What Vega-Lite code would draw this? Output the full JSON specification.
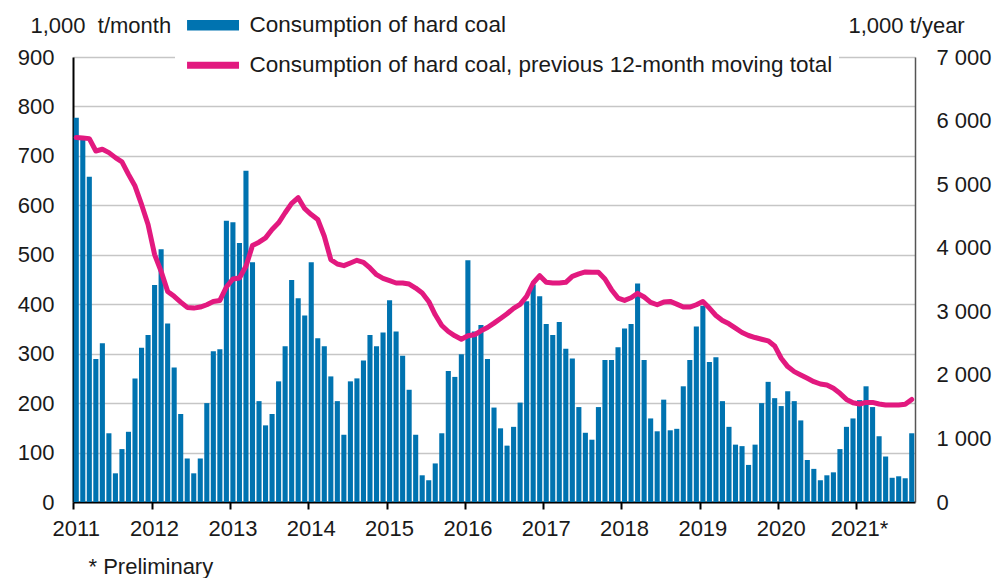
{
  "$schema": "https://vega.github.io/schema/vega-lite/v6.json",
  "width": 842,
  "height": 445,
  "autosize": "none",
  "padding": {"left": 73, "top": 57, "right": 83, "bottom": 76},
  "background": "white",
  "config": {
    "view": {"stroke": null},
    "font": "Liberation Sans",
    "axis": {"labelFont": "Liberation Sans", "labelFontSize": 22, "labelColor": "#1a1a1a", "titleFont": "Liberation Sans", "titleFontSize": 22, "titleFontWeight": "normal", "titleColor": "#1a1a1a"},
    "legend": {"labelFont": "Liberation Sans", "labelFontSize": 22.5, "labelColor": "#1a1a1a", "labelLimit": 0}
  },
  "data": {"values": [
    {"m":"2011-01","v":777,"t":5733},{"m":"2011-02","v":740,"t":5725},{"m":"2011-03","v":658,"t":5716},{"m":"2011-04","v":289,"t":5522},{"m":"2011-05","v":321,"t":5549},{"m":"2011-06","v":139,"t":5496},{"m":"2011-07","v":58,"t":5417},{"m":"2011-08","v":107,"t":5350},{"m":"2011-09","v":142,"t":5154},{"m":"2011-10","v":250,"t":4970},{"m":"2011-11","v":312,"t":4681},{"m":"2011-12","v":338,"t":4365},
    {"m":"2012-01","v":439,"t":3892},{"m":"2012-02","v":511,"t":3629},{"m":"2012-03","v":361,"t":3313},{"m":"2012-04","v":272,"t":3235},{"m":"2012-05","v":178,"t":3145},{"m":"2012-06","v":88,"t":3061},{"m":"2012-07","v":58,"t":3050},{"m":"2012-08","v":88,"t":3066},{"m":"2012-09","v":200,"t":3103},{"m":"2012-10","v":305,"t":3155},{"m":"2012-11","v":309,"t":3171},{"m":"2012-12","v":569,"t":3382},
    {"m":"2013-01","v":566,"t":3508},{"m":"2013-02","v":524,"t":3524},{"m":"2013-03","v":670,"t":3708},{"m":"2013-04","v":485,"t":4034},{"m":"2013-05","v":204,"t":4087},{"m":"2013-06","v":155,"t":4155},{"m":"2013-07","v":178,"t":4287},{"m":"2013-08","v":244,"t":4392},{"m":"2013-09","v":315,"t":4550},{"m":"2013-10","v":449,"t":4697},{"m":"2013-11","v":412,"t":4786},{"m":"2013-12","v":377,"t":4613},
    {"m":"2014-01","v":485,"t":4522},{"m":"2014-02","v":331,"t":4444},{"m":"2014-03","v":315,"t":4180},{"m":"2014-04","v":254,"t":3813},{"m":"2014-05","v":204,"t":3744},{"m":"2014-06","v":136,"t":3718},{"m":"2014-07","v":244,"t":3760},{"m":"2014-08","v":250,"t":3802},{"m":"2014-09","v":286,"t":3771},{"m":"2014-10","v":338,"t":3681},{"m":"2014-11","v":315,"t":3576},{"m":"2014-12","v":343,"t":3518},
    {"m":"2015-01","v":408,"t":3482},{"m":"2015-02","v":345,"t":3445},{"m":"2015-03","v":296,"t":3445},{"m":"2015-04","v":227,"t":3429},{"m":"2015-05","v":136,"t":3366},{"m":"2015-06","v":54,"t":3287},{"m":"2015-07","v":44,"t":3155},{"m":"2015-08","v":78,"t":2945},{"m":"2015-09","v":139,"t":2776},{"m":"2015-10","v":265,"t":2682},{"m":"2015-11","v":253,"t":2614},{"m":"2015-12","v":299,"t":2561},
    {"m":"2016-01","v":489,"t":2614},{"m":"2016-02","v":345,"t":2630},{"m":"2016-03","v":358,"t":2693},{"m":"2016-04","v":289,"t":2745},{"m":"2016-05","v":191,"t":2814},{"m":"2016-06","v":149,"t":2887},{"m":"2016-07","v":114,"t":2961},{"m":"2016-08","v":152,"t":3045},{"m":"2016-09","v":201,"t":3108},{"m":"2016-10","v":406,"t":3234},{"m":"2016-11","v":440,"t":3445},{"m":"2016-12","v":416,"t":3560},
    {"m":"2017-01","v":360,"t":3455},{"m":"2017-02","v":338,"t":3445},{"m":"2017-03","v":364,"t":3445},{"m":"2017-04","v":310,"t":3455},{"m":"2017-05","v":290,"t":3550},{"m":"2017-06","v":192,"t":3587},{"m":"2017-07","v":140,"t":3619},{"m":"2017-08","v":126,"t":3613},{"m":"2017-09","v":192,"t":3613},{"m":"2017-10","v":287,"t":3508},{"m":"2017-11","v":287,"t":3340},{"m":"2017-12","v":313,"t":3208},
    {"m":"2018-01","v":351,"t":3171},{"m":"2018-02","v":360,"t":3213},{"m":"2018-03","v":442,"t":3282},{"m":"2018-04","v":287,"t":3224},{"m":"2018-05","v":169,"t":3140},{"m":"2018-06","v":143,"t":3103},{"m":"2018-07","v":207,"t":3145},{"m":"2018-08","v":145,"t":3155},{"m":"2018-09","v":148,"t":3113},{"m":"2018-10","v":234,"t":3066},{"m":"2018-11","v":287,"t":3066},{"m":"2018-12","v":355,"t":3103},
    {"m":"2019-01","v":397,"t":3155},{"m":"2019-02","v":283,"t":3050},{"m":"2019-03","v":293,"t":2934},{"m":"2019-04","v":204,"t":2855},{"m":"2019-05","v":152,"t":2803},{"m":"2019-06","v":116,"t":2734},{"m":"2019-07","v":113,"t":2666},{"m":"2019-08","v":75,"t":2619},{"m":"2019-09","v":116,"t":2587},{"m":"2019-10","v":200,"t":2560},{"m":"2019-11","v":243,"t":2535},{"m":"2019-12","v":210,"t":2455},
    {"m":"2020-01","v":194,"t":2262},{"m":"2020-02","v":224,"t":2130},{"m":"2020-03","v":204,"t":2051},{"m":"2020-04","v":165,"t":1998},{"m":"2020-05","v":85,"t":1946},{"m":"2020-06","v":67,"t":1893},{"m":"2020-07","v":44,"t":1856},{"m":"2020-08","v":54,"t":1840},{"m":"2020-09","v":60,"t":1788},{"m":"2020-10","v":107,"t":1709},{"m":"2020-11","v":152,"t":1614},{"m":"2020-12","v":169,"t":1562},
    {"m":"2021-01","v":206,"t":1541},{"m":"2021-02","v":234,"t":1567},{"m":"2021-03","v":192,"t":1567},{"m":"2021-04","v":133,"t":1541},{"m":"2021-05","v":92,"t":1525},{"m":"2021-06","v":49,"t":1525},{"m":"2021-07","v":52,"t":1525},{"m":"2021-08","v":48,"t":1536},{"m":"2021-09","v":139,"t":1614}
  ]},
  "encoding": {
    "x": {
      "field": "m", "type": "ordinal",
      "scale": {"paddingInner": 0.22, "paddingOuter": 0.11},
      "axis": {
        "values": ["2011-01","2012-01","2013-01","2014-01","2015-01","2016-01","2017-01","2018-01","2019-01","2020-01","2021-01"],
        "labelExpr": "slice(datum.value, 0, 4) + (datum.value == '2021-01' ? '*' : '')",
        "bandPosition": 0,
        "labelAngle": 0,
        "labelOverlap": false,
        "labelPadding": 9,
        "tickSize": 7,
        "tickWidth": 2,
        "tickColor": "#000000",
        "domainColor": "#000000",
        "domainWidth": 2,
        "grid": false,
        "title": "* Preliminary",
        "titleX": 15,
        "titleY": 64,
        "titleAlign": "left",
        "titleBaseline": "middle",
        "titleAnchor": "start"
      }
    }
  },
  "layer": [
    {
      "mark": {"type": "bar"},
      "encoding": {
        "y": {
          "field": "v", "type": "quantitative",
          "scale": {"domain": [0, 900], "nice": false},
          "axis": {
            "orient": "left",
            "values": [0,100,200,300,400,500,600,700,800,900],
            "grid": true, "gridColor": "#c6c6c6", "gridWidth": 1.5,
            "domain": true, "domainColor": "#000000", "domainWidth": 2,
            "ticks": false, "labelPadding": 19,
            "title": "1,000\u00a0 t/month", "titleAngle": 0, "titleAlign": "left", "titleBaseline": "middle",
            "titleX": -43, "titleY": -32
          }
        },
        "color": {
          "datum": "Consumption of hard coal",
          "scale": {"range": ["#0073b0"]},
          "legend": {
            "orient": "none", "legendX": 108, "legendY": -43, "padding": 0,
            "title": null,
            "symbolType": "M-1,-1H9V1H-1Z", "symbolSize": 108, "symbolStrokeWidth": 0,
            "labelOffset": 46
          }
        }
      }
    },
    {
      "mark": {"type": "line", "strokeWidth": 5, "strokeJoin": "round", "strokeCap": "round"},
      "encoding": {
        "y": {
          "field": "t", "type": "quantitative",
          "scale": {"domain": [0, 7000], "nice": false},
          "axis": {
            "orient": "right",
            "values": [0,1000,2000,3000,4000,5000,6000,7000],
            "grid": false,
            "domain": true, "domainColor": "#555555", "domainWidth": 1.5,
            "ticks": false, "labelPadding": 21,
            "labelExpr": "replace(format(datum.value, ','), ',', ' ')",
            "title": "1,000 t/year", "titleAngle": 0, "titleAlign": "left", "titleBaseline": "middle",
            "titleX": -67, "titleY": -32
          }
        },
        "stroke": {
          "datum": "Consumption of hard coal, previous 12-month moving total",
          "scale": {"range": ["#e2197f"]},
          "legend": {
            "orient": "none", "legendX": 102, "legendY": -9, "padding": 6,
            "fillColor": "white",
            "title": null,
            "symbolType": "M-1,0H9", "symbolSize": 108, "symbolStrokeWidth": 7,
            "labelOffset": 46
          }
        }
      }
    }
  ],
  "resolve": {"scale": {"y": "independent"}}
}
